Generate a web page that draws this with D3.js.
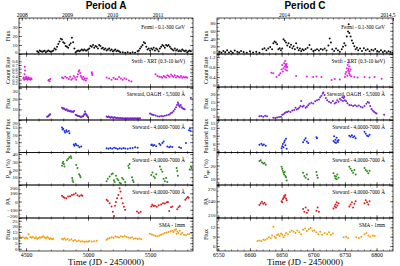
<!DOCTYPE html>
<html><head><meta charset="utf-8">
<script src="https://cdn.jsdelivr.net/npm/d3@7"></script>
<style>body{margin:0;background:#fff}svg{display:block}</style>
</head><body><svg id="c" width="400" height="266"></svg>
<script>
// ---------------- DATA (JD - 2450000, value) ----------------
const titles = ["Period A", "Period C"];
const yearTicksA = [2008, 2009, 2010, 2011];
const yearTicksC = [2014, 2014.5];
const yearDomainA = [2007.94, 2011.78];
const yearDomainC = [2013.693, 2014.5];
const jdDomainA = [4443, 5847];
const jdDomainC = [6548, 6826];
const jdTicksA = [4500, 5000, 5500];
const jdTicksC = [6550, 6600, 6650, 6700, 6750, 6800];
const yLabels = ["Flux", "Count Rate", "Flux", "Polarized Flux", "P_opt (%)", "PA", "Flux"];
const notes = ["Fermi - 0.1-300 GeV", "Swift - XRT (0.3-10 keV)", "Steward, OAGH - 5,5000 \u00C5",
  "Steward - 4,0000-7000 \u00C5", "Steward - 4,0000-7000 \u00C5", "Steward - 4,0000-7000 \u00C5", "SMA - 1mm"];
const colors = ["#111111", "#e020e0", "#7a22d0", "#1a30e0", "#2e8b1e", "#d42020", "#f0a010"];

const yTicksA = [[0,10,20,30],[0.2,0.3,0.4,0.5,0.6,0.7,0.8],[10,20,30],[5,10,15,20],[10,20,30,40],[-200,-100,0,100,200],[0,5,10,15,20,25]];
const yDomA = [[0,40],[0.1,1.0],[0,31],[-2,20],[0,42],[-200,200],[-2,27.5]];
const yTicksC = [[0,20,40,60,80],[0,0.4,0.8,1.2],[5,10,15,20],[3,6,9,12,15],[10,20],[210,240,270],[6,9,12]];
const yDomC = [[0,93],[0,1.32],[2.5,25],[2.6,15],[5,30],[208,271],[4.4,15]];

const fermiA = [[4590,3],[4600,2],[4610,4],[4620,3],[4630,2.5],[4640,3],[4650,3.5],[4660,2],[4670,3],[4680,4],[4690,3],[4700,2.5],[4710,3],[4720,4],[4730,6],[4740,5],[4750,8],[4760,11],[4770,14],[4780,17],[4790,16],[4800,13],[4810,12],[4820,9],[4830,8],[4840,7],[4850,10],[4860,12],[4870,18],[4880,13],[4890,6],[4900,2],[4910,3],[4920,4],[4930,3],[4940,4],[4950,5],[4960,4],[4970,5],[4980,4],[4990,4],[5000,5],[5010,6],[5020,9],[5030,8],[5040,10],[5050,7],[5060,9],[5070,8],[5080,6],[5090,10],[5100,9],[5110,6],[5120,7],[5130,5],[5140,6],[5150,4],[5160,5],[5170,6],[5180,4],[5190,5],[5200,3],[5210,4],[5220,5],[5230,3],[5240,4],[5250,3],[5260,2],[5280,2],[5300,1.5],[5320,2],[5340,1],[5360,2],[5380,1.5],[5400,3],[5410,4],[5420,6],[5430,8],[5440,10],[5450,13],[5460,12],[5470,8],[5480,5],[5490,6],[5500,4],[5510,6],[5520,5],[5530,7],[5540,4],[5550,6],[5560,5],[5570,3],[5580,6],[5590,8],[5600,10],[5610,9],[5620,7],[5630,10],[5640,9],[5650,10],[5660,8],[5670,6],[5680,5],[5690,4],[5700,6],[5710,4],[5720,5],[5730,3],[5740,4],[5750,3],[5760,5],[5770,4],[5780,3],[5790,4],[5800,2],[5810,3],[5820,4],[5830,3]];
const swiftA = [[4478,0.33],[4482,0.36],[4485,0.30],[4488,0.45],[4490,0.65],[4492,0.55],[4494,0.32],[4497,0.35],[4500,0.31],[4503,0.38],[4506,0.33],[4510,0.30],[4513,0.34],[4516,0.32],[4520,0.36],[4525,0.31],[4530,0.33],[4535,0.30],[4540,0.34],[4545,0.32],[4680,0.28],[4685,0.30],[4690,0.26],[4695,0.32],[4790,0.36],[4800,0.34],[4815,0.38],[4830,0.35],[4845,0.32],[4855,0.38],[4865,0.30],[4875,0.33],[4885,0.40],[4895,0.35],[4905,0.30],[4912,0.38],[4918,0.45],[4924,0.52],[4930,0.56],[4936,0.48],[4942,0.40],[4948,0.36],[4955,0.32],[4962,0.38],[4968,0.30],[4975,0.34],[4982,0.28],[4990,0.33],[5030,0.50],[5032,0.46],[5035,0.43],[5150,0.36],[5170,0.33],[5190,0.30],[5205,0.35],[5220,0.32],[5235,0.31],[5250,0.37],[5265,0.33],[5280,0.30],[5295,0.34],[5310,0.31],[5330,0.28],[5350,0.25],[5545,0.45],[5560,0.40],[5575,0.38],[5590,0.37],[5600,0.35],[5610,0.40],[5620,0.38],[5630,0.36],[5640,0.42],[5650,0.40],[5660,0.38],[5670,0.44],[5680,0.40],[5690,0.38],[5700,0.42],[5710,0.36],[5720,0.40],[5730,0.38],[5740,0.36],[5750,0.40],[5760,0.35],[5770,0.38],[5780,0.36],[5790,0.37],[5800,0.35]];
const stewA = [[4670,3.0],[4678,3.5],[4685,4.2],[4690,5.0],[4695,5.5],[4790,11.5],[4798,10.5],[4805,11.0],[4812,10.0],[4820,9.5],[4828,10.2],[4835,8.8],[4842,9.0],[4850,8.2],[4858,8.6],[4865,7.8],[4872,8.0],[4880,7.5],[4888,8.5],[4900,5.0],[4908,4.5],[4915,4.0],[4922,3.8],[4930,3.5],[4938,3.0],[4945,2.8],[4952,3.2],[4960,3.5],[4965,4.5],[4970,5.5],[4975,8.0],[4980,6.0],[4985,5.0],[4990,4.5],[4995,3.5],[5000,2.5],[5150,3.2],[5158,2.8],[5166,3.4],[5174,2.6],[5182,2.2],[5190,2.8],[5198,2.4],[5206,2.0],[5214,2.5],[5222,2.1],[5230,1.8],[5240,2.0],[5250,1.7],[5260,1.8],[5270,1.6],[5280,1.7],[5290,1.5],[5300,1.6],[5310,1.5],[5320,1.6],[5330,1.5],[5340,1.6],[5350,1.5],[5360,1.6],[5370,1.5],[5380,1.6],[5390,1.5],[5400,1.6],[5410,1.5],[5420,1.6],[5500,6.0],[5510,5.5],[5520,5.0],[5530,4.8],[5545,4.2],[5560,3.6],[5575,3.4],[5590,3.8],[5605,3.5],[5620,4.0],[5635,4.5],[5650,5.0],[5660,5.5],[5670,6.5],[5680,7.0],[5690,8.5],[5700,10.0],[5710,12.0],[5718,14.0],[5725,16.5],[5730,15.0],[5735,13.5],[5740,12.5],[5748,14.0],[5755,12.0],[5762,11.0],[5770,10.5],[5780,10.0],[5830,21.0]];
const polA = [[4790,15.0],[4795,13.5],[4800,14.0],[4810,12.5],[4815,11.5],[4825,13.0],[4830,12.0],[4845,12.5],[4850,11.0],[4885,3.5],[4890,2.5],[4900,4.0],[4905,3.0],[4920,2.5],[4930,1.5],[4945,2.0],[5150,0.8],[5165,0.5],[5180,1.0],[5195,0.6],[5210,1.2],[5225,0.8],[5240,0.4],[5255,0.9],[5270,0.6],[5285,1.0],[5300,0.7],[5320,0.5],[5340,0.8],[5360,1.0],[5380,1.5],[5400,1.2],[5510,3.0],[5515,3.5],[5525,2.5],[5535,3.0],[5550,2.2],[5575,4.0],[5585,3.0],[5600,4.5],[5610,5.5],[5640,2.0],[5655,1.5],[5665,2.0],[5680,1.8],[5735,1.5],[5750,1.0],[5790,4.5],[5815,13.0],[5822,14.5],[5828,12.5]];
const poptA = [[4790,25],[4795,28],[4800,30],[4805,27],[4810,24],[4830,32],[4840,34],[4850,36],[4860,37],[4865,35],[4872,9],[4875,6],[4880,4],[4905,26],[4915,22],[4928,14],[4935,12],[4940,10],[5150,5],[5160,8],[5175,11],[5190,14],[5200,15],[5208,6],[5215,4],[5225,12],[5235,8],[5245,6],[5255,3],[5265,2],[5275,9],[5285,7],[5300,4],[5325,25],[5330,22],[5335,27],[5355,10],[5362,6],[5368,4],[5510,13],[5520,16],[5530,11],[5540,9],[5550,14],[5580,24],[5590,20],[5600,17],[5610,8],[5620,5],[5630,9],[5640,4],[5715,22],[5720,18],[5725,12],[5820,20],[5830,24],[5835,22]];
const paA = [[4790,70],[4800,55],[4810,45],[4825,40],[4840,60],[4855,65],[4870,80],[4885,85],[4900,100],[4915,75],[4930,65],[4945,75],[4955,70],[5150,20],[5160,5],[5175,-20],[5190,-60],[5200,-125],[5210,-175],[5218,-50],[5225,-5],[5235,40],[5245,80],[5255,160],[5262,120],[5270,40],[5280,-20],[5290,-65],[5300,-100],[5395,-120],[5410,-140],[5425,-125],[5510,-60],[5518,-40],[5528,-55],[5540,-50],[5555,-65],[5570,-45],[5590,-35],[5605,-20],[5620,-25],[5635,-10],[5645,-5],[5655,-115],[5670,-70],[5680,-60],[5720,-95],[5730,-70],[5740,-55],[5785,20],[5795,40],[5805,55],[5812,45]];
const smaA = [[4450,10.5],[4460,9.8],[4475,10.2],[4490,9.5],[4500,10.0],[4510,9.2],[4520,13.0],[4535,10.5],[4545,9.8],[4555,10.6],[4570,9.5],[4580,10.2],[4590,9.0],[4600,9.6],[4610,10.4],[4620,9.8],[4630,10.8],[4640,11.2],[4650,10.0],[4660,9.5],[4670,10.6],[4680,9.8],[4690,8.8],[4700,9.5],[4710,8.5],[4720,9.0],[4790,9.0],[4800,8.2],[4810,9.4],[4820,8.0],[4835,8.8],[4850,7.6],[4865,8.4],[4880,7.2],[4895,7.8],[4910,6.8],[4925,7.4],[4940,6.4],[4955,6.8],[4970,6.0],[4985,6.5],[5000,6.2],[5010,7.0],[5030,6.5],[5050,6.8],[5070,7.2],[5150,8.0],[5160,9.0],[5175,9.6],[5190,10.4],[5205,9.8],[5220,11.0],[5235,10.5],[5250,10.0],[5265,11.2],[5280,10.6],[5295,11.4],[5310,10.8],[5325,10.0],[5340,9.6],[5355,10.2],[5370,9.0],[5385,9.4],[5400,8.8],[5415,9.2],[5430,8.6],[5500,13.5],[5515,12.8],[5530,12.0],[5545,11.5],[5560,11.0],[5575,11.8],[5590,12.5],[5605,13.2],[5620,14.0],[5635,14.5],[5650,15.0],[5665,15.6],[5680,16.2],[5690,15.0],[5700,16.8],[5710,17.5],[5715,13.5],[5720,15.5],[5730,14.0],[5740,16.0],[5750,13.0],[5760,14.2],[5775,12.5],[5790,12.0],[5805,13.0],[5820,13.5],[5835,14.0]];

const fermiC = [[6552,6],[6555,3],[6558,8],[6561,5],[6564,10],[6567,4],[6570,7],[6573,3],[6576,9],[6580,6],[6583,4],[6586,8],[6590,5],[6595,3],[6600,7],[6605,4],[6610,6],[6615,3],[6620,12],[6623,15],[6626,10],[6629,14],[6632,18],[6635,12],[6637,28],[6639,32],[6641,30],[6643,25],[6645,12],[6647,15],[6649,10],[6651,14],[6653,38],[6655,34],[6657,30],[6659,22],[6661,28],[6663,18],[6665,24],[6667,15],[6669,20],[6671,12],[6673,28],[6675,16],[6677,10],[6679,14],[6681,8],[6683,12],[6685,10],[6688,13],[6691,16],[6694,23],[6697,12],[6700,8],[6703,10],[6706,12],[6709,9],[6712,13],[6715,11],[6718,14],[6721,9],[6724,22],[6726,40],[6728,30],[6730,12],[6733,8],[6736,14],[6739,10],[6742,6],[6745,12],[6747,19],[6749,28],[6751,22],[6753,45],[6755,58],[6756,77],[6757,54],[6759,45],[6761,35],[6763,28],[6765,20],[6767,12],[6769,16],[6771,10],[6774,14],[6777,8],[6780,15],[6783,10],[6786,12],[6789,7],[6792,11],[6795,9],[6798,13],[6801,8],[6804,6],[6807,10],[6810,5],[6813,8],[6816,4],[6819,7],[6822,5],[6825,3]];
const swiftC = [[6634,0.57],[6637,0.55],[6642,0.40],[6646,0.48],[6648,0.55],[6650,0.70],[6651,0.88],[6652,0.62],[6653,0.75],[6654,0.95],[6655,0.82],[6655.5,1.04],[6656,0.70],[6656.5,0.90],[6657,0.85],[6657.5,0.78],[6658,0.92],[6658.5,0.66],[6659,0.80],[6673,0.44],[6690,0.42],[6700,0.40],[6705,0.42],[6713,0.40],[6729,0.28],[6734,0.32],[6742,0.30],[6750,0.40],[6751,0.52],[6752,0.60],[6753,0.75],[6754,0.45],[6754.5,0.88],[6755,0.65],[6755.5,0.98],[6756,0.72],[6756.5,0.55],[6757,0.82],[6757.5,0.62],[6758,0.48],[6759,0.70],[6760,0.42],[6765,0.40],[6770,0.38],[6781,0.40],[6789,0.38],[6797,0.40],[6808,0.33]];
const stewC = [[6615,5.0],[6618,5.2],[6621,4.8],[6624,5.4],[6627,5.0],[6637,4.0],[6640,3.8],[6643,4.2],[6646,4.5],[6649,4.8],[6651,6.0],[6653,6.5],[6655,7.2],[6657,7.8],[6659,8.0],[6661,8.4],[6664,8.0],[6667,9.0],[6670,9.4],[6672,10.8],[6674,9.6],[6676,10.2],[6678,11.0],[6680,12.0],[6681,15.5],[6683,11.5],[6685,12.2],[6688,10.8],[6690,11.6],[6692,12.5],[6694,13.5],[6697,14.2],[6700,13.8],[6703,15.2],[6706,16.0],[6709,16.5],[6711,18.0],[6713,19.0],[6715,20.5],[6716,21.3],[6718,19.5],[6720,17.5],[6722,16.0],[6725,15.0],[6728,14.2],[6731,15.5],[6734,13.8],[6736,14.5],[6738,16.0],[6740,15.0],[6742,17.0],[6744,16.2],[6746,18.0],[6747,15.5],[6748,17.5],[6749,18.4],[6750,16.0],[6752,15.2],[6754,14.0],[6757,12.8],[6760,12.5],[6763,12.0],[6766,12.6],[6769,11.8],[6772,12.4],[6775,11.5],[6778,11.0],[6781,12.0],[6784,13.5],[6786,14.8],[6788,14.2],[6790,12.0],[6792,10.0],[6794,9.0],[6796,8.2],[6798,7.5],[6800,7.0],[6812,6.0]];
const polC = [[6615,5.6],[6618,5.9],[6620,5.4],[6622,5.7],[6625,5.2],[6650,4.2],[6651,5.0],[6652,5.8],[6653,4.6],[6654,6.5],[6655,7.2],[6656,5.4],[6657,7.8],[6658,4.0],[6684,6.5],[6686,7.4],[6688,8.0],[6690,6.8],[6692,6.2],[6705,8.4],[6706,8.0],[6732,7.0],[6733,8.8],[6734,6.5],[6735,7.5],[6736,6.2],[6737,8.2],[6738,7.0],[6739,6.6],[6740,7.4],[6757,9.0],[6759,8.6],[6761,9.2],[6763,8.4],[6765,8.8],[6767,8.0],[6781,10.5],[6783,9.8],[6785,9.0],[6787,8.8],[6789,9.4]];
const poptC = [[6615,23.5],[6617,24.0],[6619,22.5],[6621,21.5],[6623,22.0],[6625,20.5],[6650,19.0],[6651,17.5],[6652,16.0],[6653,14.5],[6654,13.0],[6655,15.0],[6656,12.0],[6657,11.0],[6658,8.5],[6684,14.5],[6686,12.0],[6688,10.5],[6690,13.0],[6692,9.5],[6705,15.0],[6706,12.5],[6707,10.5],[6732,14.0],[6734,12.0],[6735,10.0],[6736,11.5],[6737,9.5],[6738,13.0],[6740,10.5],[6757,19.0],[6759,17.5],[6761,16.0],[6763,14.5],[6765,16.5],[6767,13.0],[6781,18.0],[6783,16.5],[6785,15.5],[6787,14.0],[6789,16.0]];
const paC = [[6615,233],[6617,236],[6619,239],[6621,235],[6623,237],[6625,234],[6650,240],[6651,238],[6652,244],[6653,246],[6654,250],[6655,248],[6656,252],[6657,245],[6658,242],[6684,225],[6686,220],[6688,228],[6690,218],[6692,223],[6705,222],[6707,228],[6709,220],[6732,226],[6734,230],[6735,234],[6736,228],[6737,238],[6738,232],[6740,236],[6757,230],[6759,234],[6761,238],[6763,228],[6765,235],[6767,240],[6781,236],[6783,242],[6785,238],[6787,234],[6789,240]];
const smaC = [[6612,7.6],[6615,7.8],[6618,7.5],[6621,8.0],[6624,7.9],[6627,8.3],[6630,8.8],[6633,8.5],[6635,9.4],[6637,12.2],[6639,9.0],[6641,8.6],[6643,9.5],[6645,9.8],[6647,9.2],[6649,10.0],[6651,9.6],[6653,8.8],[6655,9.4],[6657,10.2],[6660,9.8],[6663,10.5],[6666,11.0],[6669,10.6],[6672,10.2],[6675,11.0],[6678,10.4],[6681,9.8],[6684,11.2],[6687,11.6],[6690,10.8],[6693,11.4],[6696,11.8],[6699,10.9],[6702,11.0],[6705,10.4],[6708,9.8],[6711,10.6],[6714,9.6],[6718,10.2],[6722,9.8],[6725,10.4],[6728,9.6],[6731,10.0],[6748,8.8],[6752,9.0],[6755,8.6],[6768,8.8],[6772,8.6],[6776,9.0],[6781,9.8],[6784,10.2],[6787,9.4],[6790,9.0],[6794,9.4],[6797,9.2]];

// ---------------- DRAWING ----------------
const svg = d3.select('#c');
const SERIF = "'Liberation Serif','DejaVu Serif',serif";
const SANS = "'Liberation Sans',Arial,sans-serif";
const edges = [18, 54, 87, 120, 152.5, 185, 218, 251];
let clipId = 0;

function drawChart(cfg) {
  const x = d3.scaleLinear().domain(cfg.xDomain).range([cfg.x0, cfg.x1]);
  const yr = d3.scaleLinear().domain(cfg.yearDomain).range([cfg.x0, cfg.x1]);
  const root = svg.append('g');

  root.append('text').attr('x', (cfg.x0 + cfg.x1) / 2).attr('y', 9)
    .attr('text-anchor', 'middle').attr('font-family', SANS).attr('font-weight', 'bold')
    .attr('font-size', 10).text(cfg.title);

  // top year axis
  const ya = root.append('g').attr('transform', `translate(0,${edges[0]})`)
    .call(d3.axisTop(yr).tickValues(cfg.yearTicks).tickSize(-3).tickPadding(1.5).tickFormat(d3.format('~g')));
  const monthTicks = d3.range(Math.ceil(cfg.yearDomain[0] * cfg.yearMinor), Math.floor(cfg.yearDomain[1] * cfg.yearMinor) + 1).map(v => v / cfg.yearMinor);
  const ym = root.append('g').attr('transform', `translate(0,${edges[0]})`)
    .call(d3.axisTop(yr).tickValues(monthTicks).tickSize(-1.5).tickFormat(''));
  [ya, ym].forEach(g => { g.select('.domain').remove(); g.selectAll('line').attr('stroke-width', 0.5); });
  ya.selectAll('text').attr('font-family', SERIF).attr('font-size', 5.5);
  ya.selectAll('.tick').filter(d => d >= cfg.yearDomain[1] - 0.001).select('text').attr('text-anchor', 'end').attr('dx', 2);

  cfg.panels.forEach((p, i) => {
    const top = edges[i], bot = edges[i + 1];
    const y = d3.scaleLinear().domain(p.domain).range([bot, top]);
    const g = root.append('g');
    const id = 'clip' + (clipId++);
    g.append('clipPath').attr('id', id).append('rect')
      .attr('x', cfg.x0).attr('y', top).attr('width', cfg.x1 - cfg.x0).attr('height', bot - top);

    // points
    g.append('g').attr('clip-path', `url(#${id})`).selectAll('circle').data(p.data).join('circle')
      .attr('cx', d => x(d[0])).attr('cy', d => y(d[1])).attr('r', 1.0).attr('fill', p.color);

    // y axes
    const minorY = d3.range(Math.ceil(p.domain[0] / p.minor), Math.floor(p.domain[1] / p.minor) + 1).map(k => +(k * p.minor).toFixed(6));
    const yl = g.append('g').attr('transform', `translate(${cfg.x0},0)`)
      .call(d3.axisLeft(y).tickValues(p.ticks).tickSize(-3).tickPadding(1.5).tickFormat(d3.format('~g')));
    const ylm = g.append('g').attr('transform', `translate(${cfg.x0},0)`)
      .call(d3.axisLeft(y).tickValues(minorY).tickSize(-1.5).tickFormat(''));
    const yrr = g.append('g').attr('transform', `translate(${cfg.x1},0)`)
      .call(d3.axisRight(y).tickValues(p.ticks).tickSize(-3).tickFormat(''));
    const yrm = g.append('g').attr('transform', `translate(${cfg.x1},0)`)
      .call(d3.axisRight(y).tickValues(minorY).tickSize(-1.5).tickFormat(''));
    // x ticks at bottom and top of each panel
    const xb = g.append('g').attr('transform', `translate(0,${bot})`)
      .call(d3.axisBottom(x).tickValues(cfg.xTicks).tickSize(-3).tickPadding(1.5)
        .tickFormat(i === cfg.panels.length - 1 ? d3.format('d') : ''));
    const xbm = g.append('g').attr('transform', `translate(0,${bot})`)
      .call(d3.axisBottom(x).tickValues(cfg.xMinor).tickSize(-1.5).tickFormat(''));
    const axes = [yl, ylm, yrr, yrm, xb, xbm];
    if (i > 0) {
      const xt = g.append('g').attr('transform', `translate(0,${top})`)
        .call(d3.axisTop(x).tickValues(cfg.xTicks).tickSize(-3).tickFormat(''));
      const xtm = g.append('g').attr('transform', `translate(0,${top})`)
        .call(d3.axisTop(x).tickValues(cfg.xMinor).tickSize(-1.5).tickFormat(''));
      axes.push(xt, xtm);
    }
    axes.forEach(a => { a.select('.domain').remove(); a.selectAll('line').attr('stroke-width', 0.5); });
    const dense = (y(p.ticks[0]) - y(p.ticks[1])) < 5;
    yl.selectAll('text').attr('font-family', SERIF).attr('font-size', dense ? 4.2 : 5);
    // nudge labels sitting on a panel boundary into their own panel
    yl.selectAll('.tick').each(function (d) {
      const t = d3.select(this).select('text');
      if (Math.abs(y(d) - top) < 1.2) t.attr('dy', '0.9em');
      else if (Math.abs(y(d) - bot) < 1.2) t.attr('dy', '-0.1em');
    });
    xb.selectAll('text').attr('font-family', SERIF).attr('font-size', 5.8);

    // frame
    g.append('rect').attr('x', cfg.x0).attr('y', top).attr('width', cfg.x1 - cfg.x0).attr('height', bot - top)
      .attr('fill', 'none').attr('stroke', '#000').attr('stroke-width', 0.7);

    // y label
    const lab = g.append('text').attr('transform', `translate(${cfg.x0 - 9.5},${(top + bot) / 2}) rotate(-90)`)
      .attr('text-anchor', 'middle').attr('font-family', SERIF).attr('font-size', 6);
    if (p.label === 'P_opt (%)') {
      lab.append('tspan').text('P');
      lab.append('tspan').attr('font-size', 4.2).attr('dy', 1.2).text('opt');
      lab.append('tspan').attr('dy', -1.2).text(' (%)');
    } else lab.text(p.label);

    // annotation
    g.append('text').attr('x', cfg.x1 - 8).attr('y', top + (i === 0 ? 11 : 9))
      .attr('text-anchor', 'end').attr('font-family', SERIF).attr('font-size', 5.2).text(p.note);
  });

  root.append('text').attr('x', (cfg.x0 + cfg.x1) / 2).attr('y', 265)
    .attr('text-anchor', 'middle').attr('font-family', SERIF).attr('font-size', 9)
    .text('Time (JD - 2450000)');
}

function mkPanels(series, doms, ticks, minors) {
  return series.map((s, i) => ({ data: s, domain: doms[i], ticks: ticks[i], minor: minors[i],
    color: colors[i], label: yLabels[i], note: notes[i] }));
}

drawChart({
  title: titles[0], x0: 19, x1: 193, xDomain: jdDomainA, yearDomain: yearDomainA,
  yearTicks: yearTicksA, yearMinor: 12, xTicks: jdTicksA,
  xMinor: d3.range(4500, 5847, 100),
  panels: mkPanels([fermiA, swiftA, stewA, polA, poptA, paA, smaA], yDomA, yTicksA, [5, 0.05, 5, 2.5, 5, 50, 2.5])
});
drawChart({
  title: titles[1], x0: 217, x1: 393, xDomain: jdDomainC, yearDomain: yearDomainC,
  yearTicks: yearTicksC, yearMinor: 40, xTicks: jdTicksC,
  xMinor: d3.range(6550, 6826, 10),
  panels: mkPanels([fermiC, swiftC, stewC, polC, poptC, paC, smaC], yDomC, yTicksC, [10, 0.1, 2.5, 1, 2.5, 10, 1])
});
</script></body></html>
